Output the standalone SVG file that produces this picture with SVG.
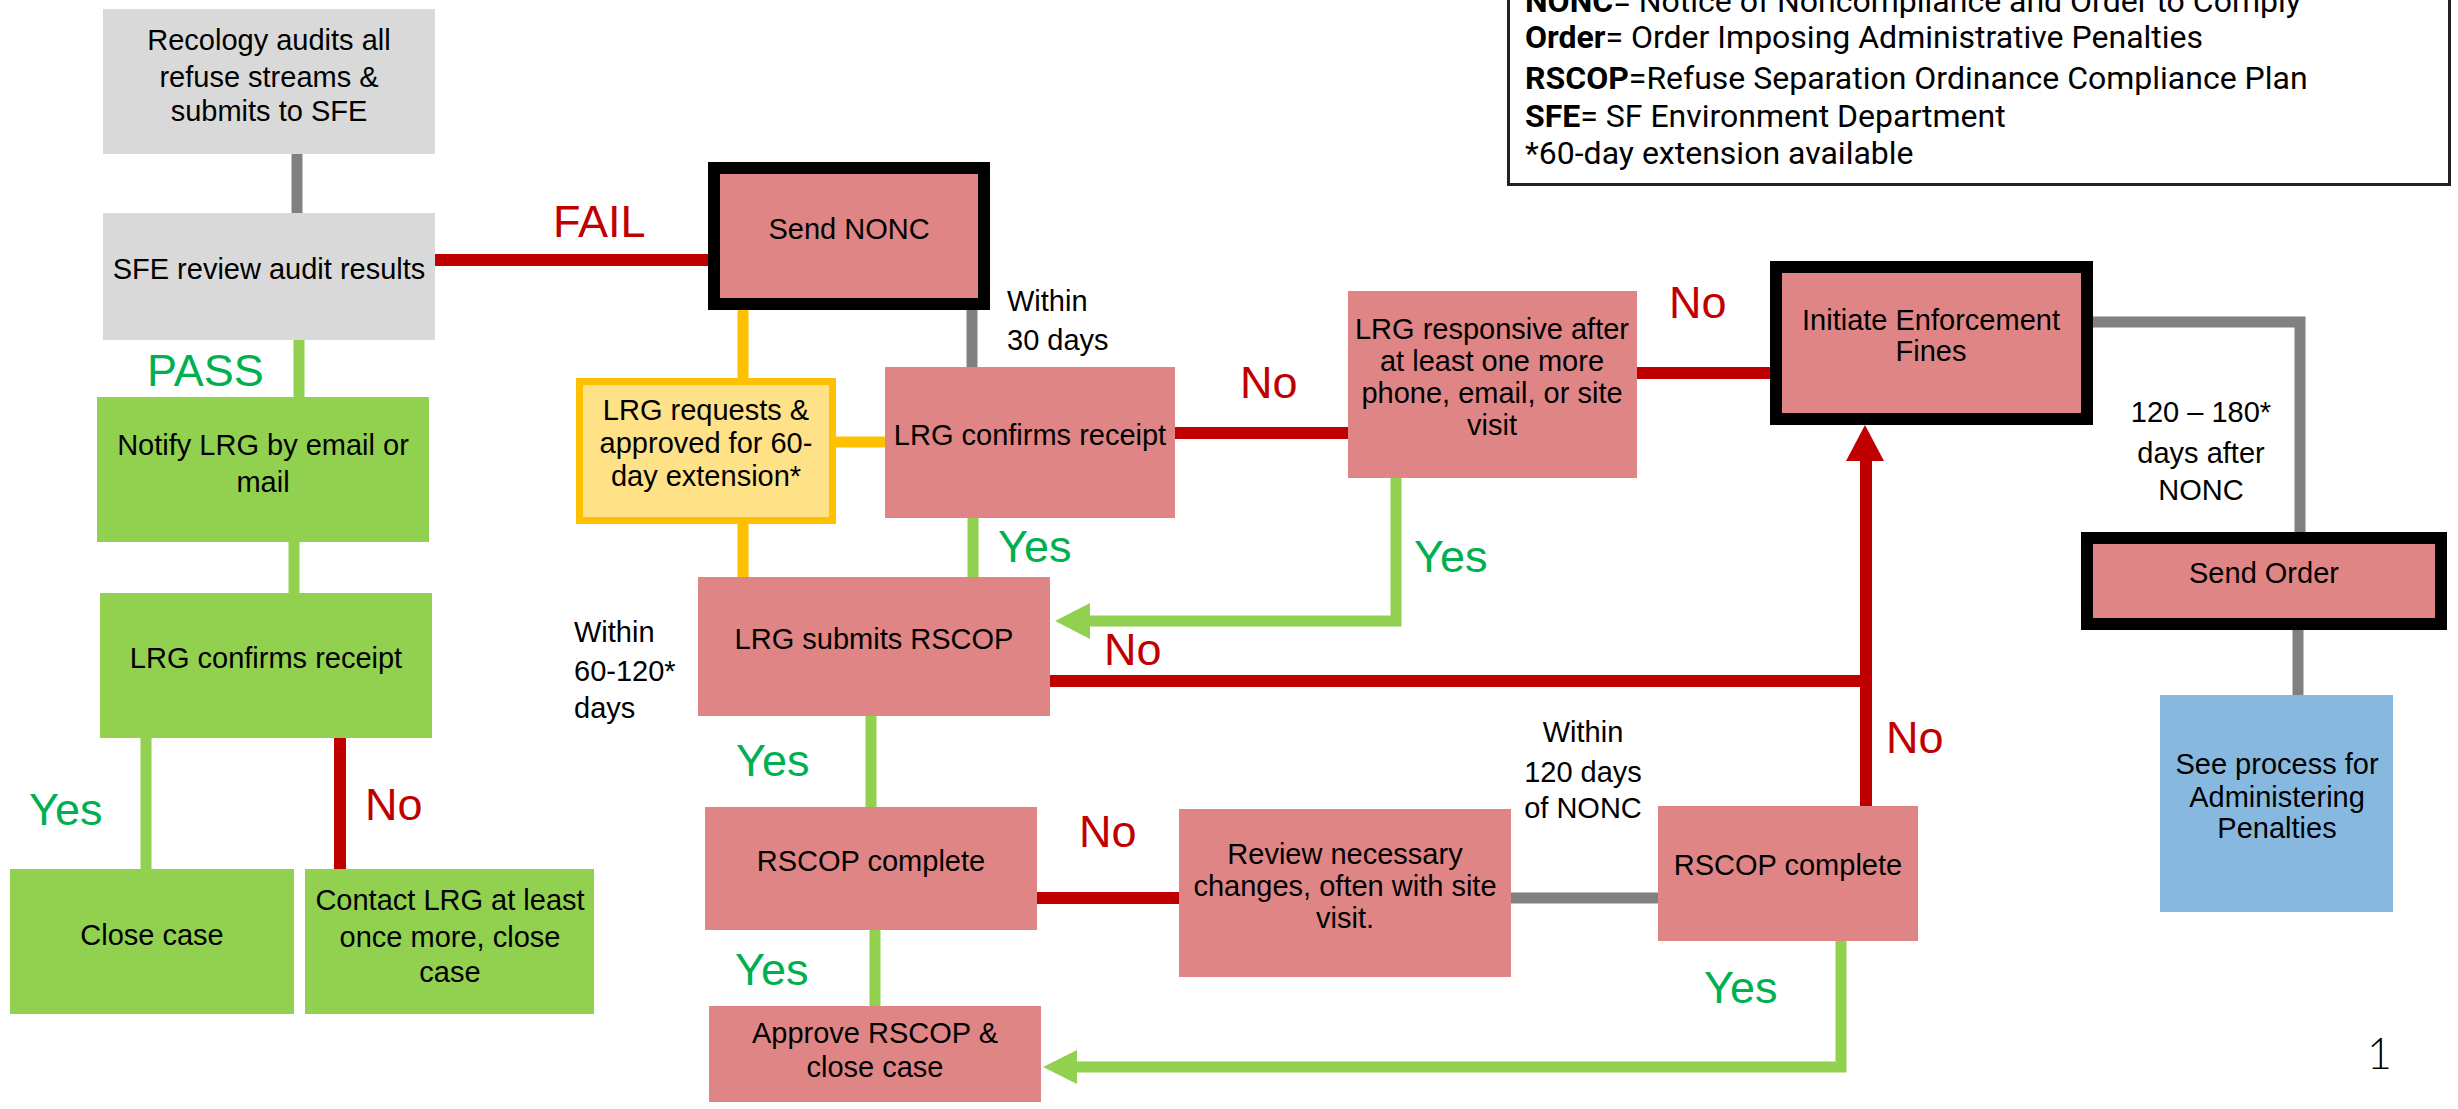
<svg xmlns="http://www.w3.org/2000/svg" width="2458" height="1109" viewBox="0 0 2458 1109">
<style>
.t{font-family:"Liberation Sans",Arial,sans-serif;font-size:29px;fill:#000;text-anchor:middle}
.s{text-anchor:start}
.lab{font-family:"Liberation Sans",Arial,sans-serif;font-size:45px}
.g{fill:#00B050}
.r{fill:#C00000}
.lg{font-family:Roboto,"Liberation Sans",sans-serif;font-size:32px;fill:#000}
.b{font-weight:bold}
.gray{fill:#D9D9D9}
.grn{fill:#92D050}
.pink{fill:#E08585}
.c{fill:none;stroke-linecap:butt;stroke-linejoin:miter}
.cgray{stroke:#808080;stroke-width:11}
.cgrn{stroke:#92D050;stroke-width:11}
.cred{stroke:#C00000;stroke-width:12}
.cyel{stroke:#FFC000;stroke-width:11}
</style>
<rect x="0" y="0" width="2458" height="1109" fill="#FFFFFF"/>

<g id="connectors">
  <line class="c cgray" x1="297" y1="154" x2="297" y2="213"/>
  <line class="c cred" x1="435" y1="260" x2="708" y2="260"/>
  <line class="c cgrn" x1="299" y1="340" x2="299" y2="397"/>
  <line class="c cgrn" x1="294" y1="542" x2="294" y2="593"/>
  <line class="c cgrn" x1="146" y1="738" x2="146" y2="869"/>
  <line class="c cred" x1="340" y1="738" x2="340" y2="869"/>
  <line class="c cyel" x1="743" y1="310" x2="743" y2="378"/>
  <line class="c cyel" x1="743" y1="524" x2="743" y2="577"/>
  <line class="c cyel" x1="836" y1="442" x2="885" y2="442"/>
  <line class="c cgray" x1="972" y1="310" x2="972" y2="367"/>
  <line class="c cred" x1="1175" y1="433" x2="1348" y2="433"/>
  <line class="c cred" x1="1637" y1="373" x2="1770" y2="373"/>
  <line class="c cgrn" x1="973" y1="518" x2="973" y2="577"/>
  <path class="c cgrn" d="M1396,478 V621 H1086"/>
  <polygon points="1055,621 1090,603 1090,639" fill="#92D050"/>
  <path class="c cred" d="M1050,681 H1866"/>
  <path class="c cred" d="M1866,808 V458"/>
  <polygon points="1865,425 1846,461 1884,461" fill="#C00000"/>
  <line class="c cgrn" x1="871" y1="716" x2="871" y2="807"/>
  <line class="c cred" x1="1037" y1="898" x2="1179" y2="898"/>
  <line class="c cgray" x1="1511" y1="898" x2="1658" y2="898"/>
  <line class="c cgrn" x1="875" y1="930" x2="875" y2="1006"/>
  <path class="c cgrn" d="M1841,941 V1067 H1074"/>
  <polygon points="1043,1067 1077,1050 1077,1084" fill="#92D050"/>
  <path class="c cgray" d="M2093,322 H2300 V532"/>
  <line class="c cgray" x1="2298" y1="630" x2="2298" y2="695"/>
</g>

<g id="n_recology">
  <rect class="gray" x="103" y="9" width="332" height="145"/>
  <text class="t" x="269" y="50">Recology audits all</text>
  <text class="t" x="269" y="87">refuse streams &amp;</text>
  <text class="t" x="269" y="121">submits to SFE</text>
</g>
<g id="n_sfe">
  <rect class="gray" x="103" y="213" width="332" height="127"/>
  <text class="t" x="269" y="279">SFE review audit results</text>
</g>
<g id="n_notify">
  <rect class="grn" x="97" y="397" width="332" height="145"/>
  <text class="t" x="263" y="455">Notify LRG by email or</text>
  <text class="t" x="263" y="492">mail</text>
</g>
<g id="n_lrg1">
  <rect class="grn" x="100" y="593" width="332" height="145"/>
  <text class="t" x="266" y="668">LRG confirms receipt</text>
</g>
<g id="n_close">
  <rect class="grn" x="10" y="869" width="284" height="145"/>
  <text class="t" x="152" y="945">Close case</text>
</g>
<g id="n_contact">
  <rect class="grn" x="305" y="869" width="289" height="145"/>
  <text class="t" x="450" y="910">Contact LRG at least</text>
  <text class="t" x="450" y="947">once more, close</text>
  <text class="t" x="450" y="982">case</text>
</g>
<g id="n_nonc">
  <rect class="pink" x="714" y="168" width="270" height="136" stroke="#000" stroke-width="12"/>
  <text class="t" x="849" y="239">Send NONC</text>
</g>
<g id="n_ext">
  <rect x="579.5" y="381.5" width="253" height="139" fill="#FFE187" stroke="#FFC000" stroke-width="7"/>
  <text class="t" x="706" y="420">LRG requests &amp;</text>
  <text class="t" x="706" y="453">approved for 60-</text>
  <text class="t" x="706" y="486">day extension*</text>
</g>
<g id="n_lrg2">
  <rect class="pink" x="885" y="367" width="290" height="151"/>
  <text class="t" x="1030" y="445">LRG confirms receipt</text>
</g>
<g id="n_resp">
  <rect class="pink" x="1348" y="291" width="289" height="187"/>
  <text class="t" x="1492" y="339">LRG responsive after</text>
  <text class="t" x="1492" y="371">at least one more</text>
  <text class="t" x="1492" y="403">phone, email, or site</text>
  <text class="t" x="1492" y="435">visit</text>
</g>
<g id="n_fines">
  <rect class="pink" x="1776" y="267" width="311" height="152" stroke="#000" stroke-width="12"/>
  <text class="t" x="1931" y="330">Initiate Enforcement</text>
  <text class="t" x="1931" y="361">Fines</text>
</g>
<g id="n_order">
  <rect class="pink" x="2087" y="538" width="354" height="86" stroke="#000" stroke-width="12"/>
  <text class="t" x="2264" y="583">Send Order</text>
</g>
<g id="n_admin">
  <rect x="2160" y="695" width="233" height="217" fill="#87B9E0"/>
  <text class="t" x="2277" y="774">See process for</text>
  <text class="t" x="2277" y="807">Administering</text>
  <text class="t" x="2277" y="838">Penalties</text>
</g>
<g id="n_submit">
  <rect class="pink" x="698" y="577" width="352" height="139"/>
  <text class="t" x="874" y="649">LRG submits RSCOP</text>
</g>
<g id="n_rscop1">
  <rect class="pink" x="705" y="807" width="332" height="123"/>
  <text class="t" x="871" y="871">RSCOP complete</text>
</g>
<g id="n_review">
  <rect class="pink" x="1179" y="809" width="332" height="168"/>
  <text class="t" x="1345" y="864">Review necessary</text>
  <text class="t" x="1345" y="896">changes, often with site</text>
  <text class="t" x="1345" y="928">visit.</text>
</g>
<g id="n_rscop2">
  <rect class="pink" x="1658" y="806" width="260" height="135"/>
  <text class="t" x="1788" y="875">RSCOP complete</text>
</g>
<g id="n_approve">
  <rect class="pink" x="709" y="1006" width="332" height="96"/>
  <text class="t" x="875" y="1043">Approve RSCOP &amp;</text>
  <text class="t" x="875" y="1077">close case</text>
</g>

<g id="legend">
  <rect x="1508.5" y="-5" width="941" height="189.5" fill="#FFFFFF" stroke="#222" stroke-width="3"/>
  <text class="lg" x="1525" y="12"><tspan class="b">NONC</tspan>= Notice of Noncompliance and Order to Comply</text>
  <text class="lg" x="1525" y="48"><tspan class="b">Order</tspan>= Order Imposing Administrative Penalties</text>
  <text class="lg" x="1525" y="89"><tspan class="b">RSCOP</tspan>=Refuse Separation Ordinance Compliance Plan</text>
  <text class="lg" x="1525" y="127"><tspan class="b">SFE</tspan>= SF Environment Department</text>
  <text class="lg" x="1525" y="164">*60-day extension available</text>
</g>

<g id="labels">
  <text class="lab r" x="553" y="237">FAIL</text>
  <text class="lab g" x="147" y="386">PASS</text>
  <text class="lab g" x="29" y="825">Yes</text>
  <text class="lab r" x="365" y="820">No</text>
  <text class="t s" x="1007" y="311">Within</text>
  <text class="t s" x="1007" y="350">30 days</text>
  <text class="lab r" x="1240" y="398">No</text>
  <text class="lab g" x="998" y="562">Yes</text>
  <text class="lab g" x="1414" y="572">Yes</text>
  <text class="lab r" x="1669" y="318">No</text>
  <text class="t s" x="574" y="642">Within</text>
  <text class="t s" x="574" y="681">60-120*</text>
  <text class="t s" x="574" y="718">days</text>
  <text class="lab r" x="1104" y="665">No</text>
  <text class="lab g" x="736" y="776">Yes</text>
  <text class="lab r" x="1079" y="847">No</text>
  <text class="t" x="1583" y="742">Within</text>
  <text class="t" x="1583" y="782">120 days</text>
  <text class="t" x="1583" y="818">of NONC</text>
  <text class="lab r" x="1886" y="753">No</text>
  <text class="lab g" x="735" y="985">Yes</text>
  <text class="lab g" x="1704" y="1003">Yes</text>
  <text class="t" x="2201" y="422">120 – 180*</text>
  <text class="t" x="2201" y="463">days after</text>
  <text class="t" x="2201" y="500">NONC</text>
  <text x="2367" y="1069" font-family="Lato,'Liberation Sans',sans-serif" font-weight="300" font-size="43" fill="#000">1</text>
</g>
</svg>
